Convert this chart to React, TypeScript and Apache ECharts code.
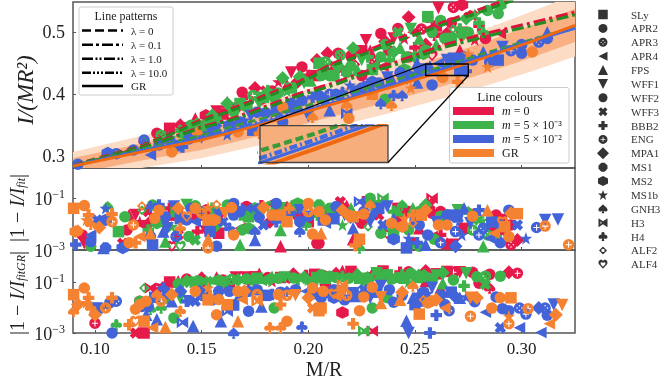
import React, { useEffect, useRef } from "react";
import * as echarts from "echarts";

const eosNames = ["SLy","APR2","APR3","APR4","FPS","WFF1","WFF2","WFF3","BBB2","ENG","MPA1","MS1","MS2","MS1b","GNH3","H3","H4","ALF2","ALF4"];
const xTicks = [0.1,0.15,0.2,0.25,0.3];
const topTicks = [0.3,0.4,0.5];
const logTicks = [0.001,0.1];
const patternNames = ["λ = 0","λ = 0.1","λ = 1.0","λ = 10.0","GR"];

// fit curves
const curveX = [0.0897,0.1225,0.1492,0.1647,0.1787,0.1961,0.2115,0.2256,0.2396,0.2631,0.2818,0.3038,0.325];
const grLine = [0.284,0.3075,0.3255,0.339,0.352,0.369,0.384,0.398,0.412,0.437,0.458,0.484,0.511];
const bandDarkHi = [0.297,0.3215,0.3415,0.356,0.37,0.388,0.404,0.419,0.434,0.461,0.483,0.51,0.538];
const bandDarkLo = [0.271,0.2935,0.3095,0.322,0.334,0.35,0.364,0.377,0.39,0.413,0.433,0.458,0.484];
const bandLightHi = [0.307,0.3335,0.3545,0.37,0.385,0.404,0.421,0.437,0.453,0.481,0.504,0.532,0.561];
const bandLightLo = [0.261,0.2815,0.2965,0.308,0.319,0.334,0.347,0.359,0.371,0.393,0.412,0.436,0.461];
const redA = [0.2855,0.3177,0.358,0.3774,0.3968,0.421,0.45,0.4677,0.487,0.516,0.5387,0.566,0.592];
const greenA = [0.2853,0.3165,0.3555,0.3745,0.3935,0.4175,0.4465,0.464,0.483,0.512,0.534,0.561,0.587];
const redB = [0.2839,0.3145,0.3468,0.3613,0.379,0.4016,0.4177,0.4355,0.45,0.479,0.4968,0.5145,0.5323];
const greenB = [0.2838,0.3135,0.345,0.359,0.376,0.398,0.414,0.432,0.446,0.475,0.492,0.51,0.528];
const greenC = [0.2845,0.3115,0.3325,0.348,0.361,0.379,0.393,0.4075,0.422,0.4445,0.465,0.487,0.508];
const blueA = [0.2845,0.31,0.3295,0.344,0.357,0.374,0.389,0.403,0.417,0.4415,0.462,0.486,0.507];
const blueB = [0.284,0.309,0.3275,0.3415,0.3545,0.3715,0.3865,0.4,0.4145,0.4395,0.46,0.4845,0.506];

// [M/R, I/(MR^2), EOS index]
const topRed = [[0.129,0.337,6],[0.135,0.345,0],[0.14,0.35,10],[0.147,0.361,4],[0.152,0.366,12],[0.157,0.372,5],[0.162,0.387,4],[0.169,0.403,1],[0.175,0.41,10],[0.18,0.405,7],[0.186,0.42,13],[0.192,0.435,5],[0.197,0.444,1],[0.2,0.43,8],[0.204,0.455,10],[0.209,0.466,10],[0.214,0.466,1],[0.218,0.44,4],[0.222,0.448,17],[0.227,0.487,5],[0.231,0.452,2],[0.234,0.498,1],[0.238,0.47,12],[0.242,0.506,6],[0.247,0.524,10],[0.25,0.475,8],[0.256,0.524,1],[0.258,0.462,18],[0.261,0.539,5],[0.263,0.49,5],[0.268,0.54,2],[0.271,0.471,4],[0.272,0.544,12],[0.277,0.527,7],[0.278,0.488,13],[0.29,0.498,3],[0.26,0.51,0],[0.245,0.49,13],[0.225,0.47,0],[0.207,0.44,6],[0.172,0.39,9],[0.155,0.355,3],[0.123,0.325,14],[0.215,0.438,15],[0.265,0.5,14],
  [0.133,0.33,1],[0.143,0.345,5],[0.15,0.352,7],[0.16,0.368,0],[0.166,0.378,6],[0.178,0.392,12],[0.183,0.405,1],[0.19,0.415,4],[0.195,0.42,10],[0.203,0.43,0],[0.212,0.445,7],[0.22,0.462,6],[0.229,0.47,4],[0.236,0.485,10],[0.24,0.49,5],[0.249,0.5,3],[0.253,0.505,2],[0.259,0.495,16],[0.267,0.515,1],[0.272,0.5,0],[0.28,0.51,8],[0.225,0.43,1],[0.235,0.445,3],[0.247,0.46,6],[0.255,0.48,10],[0.283,0.49,1]];
const topGreen = [[0.123,0.325,17],[0.131,0.334,2],[0.14,0.342,16],[0.145,0.35,6],[0.155,0.366,10],[0.162,0.385,10],[0.168,0.385,0],[0.174,0.398,9],[0.181,0.406,16],[0.184,0.395,6],[0.188,0.426,10],[0.192,0.41,0],[0.198,0.418,5],[0.205,0.45,0],[0.208,0.452,2],[0.21,0.43,1],[0.215,0.463,2],[0.218,0.435,6],[0.221,0.474,10],[0.223,0.439,4],[0.228,0.46,8],[0.232,0.445,14],[0.236,0.48,6],[0.24,0.468,10],[0.242,0.5,7],[0.245,0.44,12],[0.248,0.505,5],[0.252,0.49,4],[0.255,0.471,6],[0.256,0.525,0],[0.258,0.5,1],[0.262,0.519,6],[0.268,0.505,17],[0.271,0.505,8],[0.274,0.522,10],[0.278,0.528,13],[0.282,0.5,16],[0.284,0.535,1],[0.289,0.53,6],[0.29,0.544,12],[0.236,0.392,1],[0.15,0.345,1],[0.135,0.33,8],
  [0.142,0.338,0],[0.148,0.352,10],[0.153,0.356,8],[0.158,0.362,4],[0.165,0.372,6],[0.171,0.38,12],[0.177,0.385,5],[0.179,0.395,0],[0.186,0.402,1],[0.19,0.405,13],[0.196,0.428,10],[0.201,0.422,4],[0.206,0.43,6],[0.212,0.43,0],[0.214,0.445,10],[0.22,0.445,1],[0.225,0.455,5],[0.23,0.44,0],[0.234,0.46,6],[0.238,0.455,8],[0.243,0.475,4],[0.246,0.46,1],[0.25,0.46,10],[0.254,0.465,12],[0.26,0.48,4],[0.264,0.49,6],[0.267,0.49,0],[0.272,0.495,10],[0.275,0.5,1],[0.28,0.515,8]];
const topBlue = [[0.092,0.287,1],[0.106,0.305,12],[0.11,0.304,2],[0.123,0.326,2],[0.126,0.302,3],[0.13,0.318,6],[0.138,0.317,0],[0.141,0.315,8],[0.146,0.335,1],[0.15,0.33,5],[0.157,0.345,7],[0.163,0.35,12],[0.17,0.358,13],[0.176,0.371,6],[0.174,0.342,0],[0.18,0.37,1],[0.188,0.355,6],[0.192,0.385,12],[0.197,0.39,6],[0.205,0.398,1],[0.21,0.374,4],[0.21,0.4,9],[0.216,0.403,16],[0.218,0.369,15],[0.2195,0.4145,13],[0.225,0.41,6],[0.23,0.42,12],[0.234,0.385,14],[0.237,0.427,5],[0.24,0.398,16],[0.244,0.398,14],[0.244,0.425,3],[0.251,0.419,4],[0.251,0.45,4],[0.255,0.44,5],[0.258,0.415,1],[0.262,0.435,7],[0.268,0.458,0],[0.271,0.439,0],[0.274,0.437,8],[0.282,0.468,4],[0.285,0.452,1],[0.289,0.455,0],[0.291,0.476,5],[0.295,0.47,9],[0.3,0.466,6],[0.3,0.48,1],[0.308,0.484,2],[0.312,0.49,6],[0.312,0.5,4],[0.2,0.365,5],[0.162,0.335,13],
  [0.118,0.31,6],[0.135,0.325,1],[0.144,0.328,6],[0.155,0.34,0],[0.168,0.355,1],[0.173,0.365,5],[0.185,0.375,0],[0.19,0.378,6],[0.195,0.382,4],[0.202,0.395,8],[0.207,0.392,12],[0.213,0.4,6],[0.222,0.405,1],[0.228,0.412,0],[0.233,0.418,6],[0.239,0.425,4],[0.243,0.435,1],[0.247,0.43,12],[0.252,0.438,6],[0.257,0.445,4],[0.261,0.45,3],[0.265,0.455,5],[0.273,0.46,1],[0.277,0.455,6]];
const topOrange = [[0.136,0.307,1],[0.148,0.339,14],[0.167,0.339,1],[0.177,0.337,16],[0.188,0.379,1],[0.202,0.363,14],[0.218,0.382,14],[0.219,0.361,6],[0.239,0.382,14],[0.23,0.4,0],[0.248,0.41,13],[0.263,0.427,1],[0.27,0.42,8],[0.284,0.444,13],[0.275,0.465,13],[0.305,0.468,1]];

// [M/R, |1-I/I_fit|, EOS index]
const midRed = [[0.116,0.022,4],[0.119,0.022,5],[0.126,0.0123,10],[0.115,0.0059,1],[0.137,0.022,0],[0.122,0.0092,3],[0.135,0.04,8],[0.136,0.0014,18],[0.139,0.0038,7],[0.158,0.0044,0],[0.152,0.0051,5],[0.171,0.047,6],[0.175,0.026,4],[0.182,0.062,3],[0.182,0.0123,10],[0.187,0.0014,4],[0.204,0.0018,1],[0.2,0.0123,0],[0.095,0.0018,5],[0.113,0.0018,7],[0.152,0.034,12],[0.168,0.0068,3],[0.19,0.047,14],[0.158,0.0143,5],[0.132,0.0123,6],[0.148,0.0051,8],[0.193,0.04,11],[0.094,0.0038,1],[0.121,0.0123,13],[0.185,0.034,10],[0.215,0.072,7],[0.225,0.0107,6],[0.221,0.0026,4],[0.205,0.0018,1],[0.226,0.072,8],[0.237,0.0041,18],[0.242,0.04,0],[0.258,0.097,15],[0.257,0.054,7],[0.258,0.026,6],[0.258,0.0033,3],[0.265,0.0018,4],[0.268,0.0016,5],[0.286,0.0068,10],[0.291,0.0143,5],[0.295,0.0092,1],[0.298,0.0024,10],[0.295,0.0016,2],[0.243,0.0165,12],[0.249,0.0019,1],[0.252,0.0068,4],[0.273,0.0068,0],[0.262,0.0038,8],[0.291,0.0051,13],
  [0.125,0.03,7],[0.14,0.03,4],[0.148,0.022,0],[0.163,0.034,5],[0.178,0.05,8],[0.195,0.022,6],[0.21,0.03,1],[0.218,0.05,4],[0.233,0.022,7],[0.246,0.03,0],[0.262,0.03,6],[0.277,0.022,5],[0.288,0.022,1]];
const midGreen = [[0.114,0.019,1],[0.106,0.047,14],[0.127,0.054,6],[0.122,0.034,17],[0.133,0.0021,4],[0.144,0.0033,1],[0.147,0.0024,7],[0.111,0.0051,0],[0.125,0.0059,8],[0.129,0.0107,12],[0.14,0.0014,18],[0.169,0.0059,1],[0.168,0.0016,4],[0.172,0.0068,12],[0.162,0.054,6],[0.157,0.03,7],[0.157,0.0092,10],[0.17,0.022,6],[0.172,0.019,0],[0.195,0.062,12],[0.187,0.0059,4],[0.187,0.04,5],[0.204,0.022,14],[0.098,0.0014,6],[0.136,0.0079,13],[0.143,0.054,5],[0.168,0.022,16],[0.182,0.047,9],[0.177,0.03,8],[0.199,0.0092,16],[0.21,0.04,6],[0.216,0.0092,13],[0.229,0.097,1],[0.235,0.097,15],[0.234,0.0044,1],[0.24,0.0051,0],[0.247,0.0059,6],[0.242,0.034,4],[0.244,0.054,14],[0.249,0.04,4],[0.259,0.0026,6],[0.252,0.0014,1],[0.247,0.0014,16],[0.27,0.034,5],[0.265,0.022,12],[0.277,0.0059,9],[0.283,0.0098,9],[0.284,0.0038,2],[0.288,0.0033,8],[0.228,0.0079,17],[0.205,0.054,11],[0.224,0.0012,14],[0.255,0.054,10],[0.28,0.0143,7],[0.282,0.0014,4],
  [0.13,0.04,10],[0.138,0.03,0],[0.147,0.05,6],[0.155,0.04,8],[0.175,0.04,12],[0.192,0.05,4],[0.206,0.03,7],[0.213,0.03,6],[0.22,0.04,4],[0.232,0.05,0],[0.24,0.03,8],[0.252,0.03,6],[0.262,0.02,1],[0.275,0.03,14]];
const midBlue = [[0.098,0.0038,3],[0.098,0.0021,6],[0.091,0.0016,8],[0.101,0.0143,7],[0.105,0.0143,12],[0.105,0.04,13],[0.104,0.0012,4],[0.113,0.0012,12],[0.127,0.0016,0],[0.126,0.0033,6],[0.132,0.0051,4],[0.134,0.0068,5],[0.133,0.019,1],[0.13,0.054,8],[0.126,0.047,16],[0.137,0.047,5],[0.138,0.0033,9],[0.143,0.0143,1],[0.145,0.04,6],[0.147,0.0123,3],[0.155,0.0143,2],[0.154,0.0051,0],[0.16,0.0123,7],[0.163,0.0068,16],[0.165,0.022,1],[0.165,0.062,6],[0.175,0.0051,14],[0.175,0.0024,4],[0.171,0.04,15],[0.174,0.04,3],[0.185,0.062,6],[0.179,0.0092,7],[0.185,0.0123,8],[0.196,0.034,5],[0.196,0.0123,1],[0.196,0.0051,14],[0.207,0.0143,0],[0.193,0.026,13],[0.157,0.0014,6],[0.105,0.0012,11],[0.208,0.0107,3],[0.213,0.047,1],[0.221,0.0068,4],[0.224,0.072,15],[0.221,0.0165,7],[0.229,0.0123,5],[0.23,0.022,8],[0.233,0.04,0],[0.237,0.047,5],[0.235,0.0092,7],[0.24,0.0026,12],[0.247,0.0028,13],[0.251,0.0019,8],[0.252,0.0092,1],[0.255,0.0016,4],[0.256,0.0038,6],[0.262,0.0019,9],[0.268,0.022,0],[0.265,0.022,6],[0.273,0.04,4],[0.269,0.0051,9],[0.272,0.0038,13],[0.269,0.0014,10],[0.276,0.0107,5],[0.28,0.034,8],[0.282,0.0068,2],[0.28,0.0038,9],[0.285,0.0028,3],[0.29,0.0019,6],[0.298,0.0092,7],[0.294,0.034,1],[0.302,0.0028,13],[0.307,0.0073,9],[0.311,0.0143,5],[0.317,0.0148,5],[0.246,0.0012,0],[0.27,0.0143,16],[0.215,0.034,16],
  [0.14,0.016,0],[0.15,0.03,6],[0.158,0.022,5],[0.168,0.03,6],[0.177,0.018,1],[0.189,0.022,12],[0.2,0.02,6],[0.212,0.016,0],[0.217,0.022,5],[0.226,0.03,6],[0.24,0.016,4],[0.25,0.014,1],[0.26,0.012,5],[0.27,0.022,1],[0.286,0.012,0],[0.29,0.009,6]];
const midOrange = [[0.09,0.04,0],[0.095,0.051,1],[0.097,0.022,8],[0.096,0.0143,13],[0.098,0.0098,16],[0.092,0.0059,14],[0.102,0.0073,10],[0.108,0.024,8],[0.108,0.0123,9],[0.118,0.0092,9],[0.121,0.0033,3],[0.116,0.0019,6],[0.119,0.0019,8],[0.126,0.0044,4],[0.13,0.034,6],[0.128,0.0165,1],[0.139,0.04,10],[0.143,0.019,18],[0.147,0.04,1],[0.15,0.026,9],[0.153,0.043,13],[0.157,0.056,17],[0.122,0.049,17],[0.153,0.0143,0],[0.156,0.0143,12],[0.161,0.026,5],[0.164,0.043,6],[0.153,0.0026,4],[0.165,0.0038,1],[0.14,0.0068,16],[0.179,0.043,10],[0.183,0.022,6],[0.187,0.022,0],[0.19,0.0123,0],[0.191,0.04,16],[0.2,0.062,6],[0.2,0.03,9],[0.202,0.0041,1],[0.204,0.03,3],[0.091,0.0051,12],[0.153,0.0012,9],[0.205,0.03,6],[0.208,0.0143,1],[0.216,0.034,10],[0.219,0.022,6],[0.221,0.019,0],[0.226,0.024,6],[0.229,0.054,14],[0.239,0.0107,1],[0.244,0.0079,12],[0.245,0.0165,13],[0.249,0.022,8],[0.253,0.022,0],[0.255,0.034,10],[0.261,0.0092,6],[0.265,0.0092,1],[0.277,0.02,1],[0.284,0.034,4],[0.287,0.0044,3],[0.292,0.0079,0],[0.294,0.0033,6],[0.295,0.026,10],[0.298,0.025,0],[0.311,0.0083,9],[0.322,0.0016,9],[0.224,0.0026,0],[0.222,0.0015,8],[0.206,0.0044,4],[0.249,0.0107,17],[0.291,0.0123,18]];

// [M/R, |1-I/I_fitGR|, EOS index]
const botRed = [[0.1,0.0024,9],[0.126,0.058,15],[0.129,0.054,2],[0.139,0.106,4],[0.166,0.15,5],[0.171,0.15,5],[0.177,0.21,4],[0.181,0.15,6],[0.187,0.15,0],[0.199,0.18,8],[0.207,0.18,1],[0.16,0.12,6],[0.172,0.12,10],[0.183,0.106,13],[0.149,0.079,14],[0.121,0.0175,6],[0.123,0.001,0],[0.163,0.079,0],[0.133,0.065,7],[0.191,0.15,12],[0.119,0.001,7],[0.208,0.082,1],[0.213,0.21,10],[0.216,0.27,4],[0.221,0.21,7],[0.228,0.15,6],[0.235,0.27,0],[0.243,0.24,8],[0.255,0.27,10],[0.26,0.21,0],[0.268,0.24,9],[0.271,0.24,5],[0.277,0.24,1],[0.28,0.09,1],[0.294,0.24,10],[0.298,0.22,9],[0.216,0.0063,12],[0.23,0.0012,15],[0.285,0.058,14],[0.255,0.11,4],[0.262,0.058,4],
  [0.135,0.1,0],[0.143,0.13,6],[0.15,0.14,10],[0.157,0.15,4],[0.175,0.16,0],[0.193,0.2,10],[0.203,0.2,0],[0.22,0.26,0],[0.23,0.22,4],[0.247,0.25,6],[0.265,0.26,0],[0.285,0.2,6]];
const botGreen = [[0.123,0.058,17],[0.121,0.0175,1],[0.143,0.106,10],[0.147,0.099,0],[0.151,0.106,7],[0.158,0.115,12],[0.164,0.125,2],[0.154,0.106,14],[0.174,0.12,6],[0.178,0.115,3],[0.183,0.16,4],[0.182,0.125,10],[0.189,0.15,5],[0.193,0.145,1],[0.195,0.125,8],[0.2,0.12,13],[0.204,0.15,0],[0.11,0.0021,16],[0.131,0.0096,16],[0.137,0.0039,1],[0.184,0.0096,1],[0.126,0.0085,14],[0.134,0.023,6],[0.157,0.023,6],[0.14,0.023,5],[0.206,0.19,11],[0.21,0.17,6],[0.216,0.17,16],[0.223,0.19,10],[0.227,0.11,12],[0.232,0.22,5],[0.237,0.19,0],[0.242,0.15,1],[0.248,0.22,6],[0.251,0.15,0],[0.247,0.1,13],[0.253,0.2,7],[0.258,0.125,10],[0.263,0.23,10],[0.268,0.12,1],[0.263,0.09,4],[0.273,0.07,8],[0.274,0.22,5],[0.279,0.16,1],[0.283,0.17,2],[0.283,0.08,7],[0.29,0.17,6],[0.23,0.0096,1],[0.237,0.024,1],[0.226,0.0012,15],[0.244,0.19,8],
  [0.139,0.085,6],[0.148,0.11,8],[0.16,0.1,0],[0.167,0.12,10],[0.171,0.13,1],[0.176,0.14,0],[0.186,0.14,6],[0.198,0.15,10],[0.202,0.13,4],[0.208,0.14,0],[0.213,0.15,1],[0.219,0.14,6],[0.224,0.14,0],[0.229,0.16,7],[0.234,0.15,10],[0.239,0.13,6],[0.245,0.14,0],[0.25,0.17,1],[0.255,0.16,6],[0.26,0.18,5]];
const botBlue = [[0.11,0.0175,2],[0.107,0.0155,1],[0.101,0.0096,0],[0.105,0.012,13],[0.14,0.043,10],[0.143,0.0175,8],[0.136,0.0175,4],[0.147,0.0175,7],[0.144,0.0175,5],[0.125,0.011,1],[0.122,0.011,6],[0.124,0.0052,4],[0.129,0.0035,4],[0.132,0.058,16],[0.158,0.043,6],[0.163,0.043,1],[0.165,0.0125,0],[0.159,0.0029,4],[0.172,0.0071,1],[0.178,0.011,4],[0.172,0.043,6],[0.162,0.0071,15],[0.141,0.0026,15],[0.146,0.0019,4],[0.197,0.0017,16],[0.183,0.032,8],[0.19,0.043,14],[0.199,0.043,3],[0.206,0.024,6],[0.108,0.001,6],[0.165,0.001,14],[0.149,0.043,12],[0.208,0.032,3],[0.212,0.05,1],[0.221,0.038,0],[0.226,0.05,7],[0.229,0.024,5],[0.234,0.07,5],[0.24,0.016,6],[0.246,0.003,4],[0.25,0.013,0],[0.249,0.024,4],[0.256,0.036,13],[0.252,0.032,8],[0.258,0.06,5],[0.26,0.005,8],[0.264,0.013,6],[0.266,0.0075,2],[0.269,0.026,10],[0.271,0.024,4],[0.274,0.026,13],[0.283,0.0065,3],[0.278,0.017,1],[0.288,0.026,6],[0.291,0.009,1],[0.294,0.0075,6],[0.299,0.0095,2],[0.302,0.0055,9],[0.308,0.0095,10],[0.311,0.0095,2],[0.315,0.013,5],[0.312,0.005,1],[0.29,0.0016,7],[0.299,0.0016,3],[0.309,0.00105,3],[0.257,0.001,8],[0.247,0.001,5],[0.212,0.024,12],[0.217,0.02,6],
  [0.128,0.025,0],[0.134,0.035,6],[0.152,0.03,0],[0.155,0.02,6],[0.168,0.035,4],[0.176,0.05,6],[0.18,0.03,0],[0.187,0.04,1],[0.194,0.05,6],[0.203,0.035,0],[0.215,0.045,6],[0.222,0.028,4],[0.232,0.04,0],[0.238,0.05,6],[0.244,0.03,1],[0.253,0.018,0],[0.254,0.04,6],[0.262,0.03,1],[0.267,0.04,0]];
const botOrange = [[0.095,0.058,1],[0.09,0.032,0],[0.097,0.024,8],[0.096,0.0155,13],[0.098,0.0096,16],[0.092,0.013,10],[0.108,0.024,8],[0.105,0.0096,9],[0.1,0.0052,10],[0.09,0.0071,14],[0.121,0.013,6],[0.119,0.0085,1],[0.124,0.0175,6],[0.129,0.032,14],[0.131,0.0175,9],[0.136,0.032,10],[0.127,0.0016,3],[0.133,0.0017,4],[0.123,0.0029,0],[0.116,0.0021,8],[0.119,0.0029,18],[0.14,0.0071,16],[0.147,0.043,1],[0.153,0.058,13],[0.154,0.024,8],[0.158,0.0205,6],[0.153,0.02,0],[0.162,0.0129,0],[0.167,0.043,6],[0.17,0.043,10],[0.169,0.0205,3],[0.176,0.032,9],[0.176,0.0175,15],[0.157,0.0052,1],[0.167,0.0029,4],[0.186,0.032,6],[0.19,0.03,9],[0.194,0.03,5],[0.19,0.0029,1],[0.187,0.0129,8],[0.202,0.058,6],[0.2,0.024,10],[0.202,0.0096,7],[0.206,0.0096,0],[0.182,0.0016,16],[0.187,0.0016,16],[0.147,0.00095,15],[0.207,0.043,1],[0.205,0.0075,0],[0.216,0.038,5],[0.213,0.028,3],[0.212,0.034,18],[0.218,0.03,9],[0.226,0.026,1],[0.23,0.062,6],[0.224,0.0075,1],[0.221,0.0023,8],[0.234,0.015,4],[0.234,0.025,5],[0.244,0.04,10],[0.243,0.02,4],[0.249,0.07,14],[0.252,0.0055,0],[0.254,0.02,17],[0.256,0.015,6],[0.258,0.018,12],[0.26,0.02,10],[0.264,0.0095,3],[0.276,0.0045,9],[0.279,0.024,10],[0.276,0.024,5],[0.286,0.0095,1],[0.29,0.024,1],[0.295,0.024,0],[0.294,0.0045,13],[0.294,0.0023,9],[0.303,0.009,9],[0.316,0.0052,10],[0.319,0.0125,5],[0.313,0.0023,3],[0.216,0.078,15]];

const paths = [
  "M2 2H22V22H2Z",
  "M12 1A11 11 0 1 1 12 23A11 11 0 1 1 12 1Z",
  "M12 1A11 11 0 1 1 12 23A11 11 0 1 1 12 1ZM12 6A1.5 1.5 0 1 0 12 9A1.5 1.5 0 1 0 12 6ZM12 15A1.5 1.5 0 1 0 12 18A1.5 1.5 0 1 0 12 15ZM7.5 10.5A1.5 1.5 0 1 0 7.5 13.5A1.5 1.5 0 1 0 7.5 10.5ZM16.500 10.5A1.5 1.5 0 1 0 16.5 13.5A1.5 1.5 0 1 0 16.5 10.5Z",
  "M2 12L22 1V23Z",
  "M12 2L23 22H1Z",
  "M1 2H23L12 22Z",
  "M12 1A11 11 0 1 1 12 23A11 11 0 1 1 12 1Z",
  "M7 1L12 6L17 1L23 7L18 12L23 17L17 23L12 18L7 23L1 17L6 12L1 7Z",
  "M8 1H16V8H23V16H16V23H8V16H1V8H8Z",
  "M12 1A11 11 0 1 1 12 23A11 11 0 1 1 12 1ZM11 6V11H6V13H11V18H13V13H18V11H13V6Z",
  "M12 0L24 12L12 24L0 12Z",
  "M8 1H16L23 8V16L16 23H8L1 16V8Z",
  "M12 0L22.500 6V18L12 24L1.500 18V6Z",
  "M12 0L15 8.500H24L16.800 14L19.400 23L12 17.600L4.600 23L7.200 14L0 8.500H9Z",
  "M12 0C15 5 22 9 22 15C22 19 17 20 13.500 18L15 24H9L10.500 18C7 20 2 19 2 15C2 9 9 5 12 0Z",
  "M1 3L12 9L23 3V21L12 15L1 21ZM6 9V15L9 12Z",
  "M12 1C16 1 17.500 5 15.500 8.500C20 7 23.500 10 23.500 14C23.500 18 18 20 14 17L15.500 24H8.500L10 17C6 20 0.500 18 0.500 14C0.500 10 4 7 8.500 8.500C6.500 5 8 1 12 1Z",
  "M12 0L24 12L12 24L0 12ZM12 7A5 5 0 1 0 12 17A5 5 0 1 0 12 7Z",
  "M12 23L2 12C-1 7 2 1 7 1C9 1 11 2 12 4C13 2 15 1 17 1C22 1 25 7 22 12ZM12 9C10 6 6 6 6 10C6 12 9 15 12 18C15 15 18 12 18 10C18 6 14 6 12 9Z",
].map((d) => "path://" + d);
const sizes = [11.5,11.5,11.5,11.5,12.5,12.5,11.5,11.5,11.5,11.5,14,11.5,12.5,12.5,11.5,11.5,11.5,10,11];
const legendSizes = [9.5,9,9,9,10,10,9,9,9,9,12,9,10,10,9,9,9,8,9];

const RED = "#e6194b", GREEN = "#3cb44b", BLUE = "#4363d8", ORANGE = "#f58231";
const FONT = "Liberation Serif";
const AXIS = "#555";

const scatter = (data: number[][], color: string, xi: number, yi: number, z: number) => ({
  type: "scatter", data, xAxisIndex: xi, yAxisIndex: yi, z, clip: true,
  symbol: (v: number[]) => paths[v[2]],
  symbolSize: (v: number[]) => sizes[v[2]],
  encode: { x: 0, y: 1 },
  itemStyle: { color, opacity: 1 },
  silent: true,
});
const band = (hi: number[], lo: number[], fill: string, xi: number, yi: number, z: number) => ({
  type: "custom", xAxisIndex: xi, yAxisIndex: yi, z, clip: true, silent: true,
  data: curveX.map((x, i) => [x, hi[i], lo[i]]),
  encode: { x: 0, y: [1, 2] },
  renderItem: (p: any, api: any) => {
    if (p.dataIndex !== 0) return null;
    const up = curveX.map((x, i) => api.coord([x, hi[i]]));
    const dn = curveX.map((x, i) => api.coord([x, lo[i]])).reverse();
    return { type: "polygon", shape: { points: [...up, ...dn] }, style: { fill } };
  },
});
const line = (vals: number[], color: string, dash: any, w: number, xi: number, yi: number, z: number) => ({
  type: "line", data: curveX.map((x, i) => [x, vals[i]]), xAxisIndex: xi, yAxisIndex: yi, z,
  showSymbol: false, symbol: "none", silent: true, clip: true,
  lineStyle: { color, width: w, type: dash, cap: "butt" },
});

const xAxisBase = (gridIndex: number, labels: boolean) => ({
  type: "value", gridIndex, min: 0.0897, max: 0.325,
  axisLine: { show: false },
  splitLine: { show: false },
  axisTick: { show: true, inside: true, length: 3, lineStyle: { color: AXIS, width: 1 }, customValues: xTicks },
  axisLabel: { show: labels, customValues: xTicks, margin: 7, fontFamily: FONT, fontSize: 17, color: "#222", formatter: (v: number) => v.toFixed(2) },
});
const logAxis = (gridIndex: number, max: number) => ({
  type: "log", logBase: 10, gridIndex, min: 0.001, max,
  axisLine: { show: false },
  splitLine: { show: false },
  axisTick: { show: true, inside: true, length: 3, lineStyle: { color: AXIS, width: 1 }, customValues: logTicks },
  axisLabel: {
    customValues: logTicks, margin: 8, fontFamily: FONT, fontSize: 18, color: "#222",
    formatter: (v: number) => (v < 0.01 ? "{a|10}{b|−3}" : "{a|10}{b|−1}"),
    rich: {
      a: { fontFamily: FONT, fontSize: 18, color: "#222", verticalAlign: "bottom", lineHeight: 20 },
      b: { fontFamily: FONT, fontSize: 12, color: "#222", verticalAlign: "top", lineHeight: 20 },
    },
  },
});
const hidden = (gridIndex: number, min: number, max: number) => ({ type: "value", gridIndex, min, max, show: false });

const txt = (x: number, y: number, text: string, fontSize: number, extra: any = {}) => ({
  type: "text", x, y, z: 60, silent: true,
  style: { text, fontFamily: FONT, fontSize, fill: "#222", align: "left", verticalAlign: "middle", ...extra },
});
const lineG = (x1: number, y1: number, x2: number, y2: number, stroke: string, lineWidth: number, lineDash?: number[]) => ({
  type: "line", z: 60, silent: true, shape: { x1, y1, x2, y2 }, style: { stroke, lineWidth, lineDash },
});
const richI = {
  i: { fontStyle: "italic", fontFamily: FONT, fontSize: 20, fill: "#222" },
  n: { fontFamily: FONT, fontSize: 20, fill: "#222" },
  s: { fontStyle: "italic", fontFamily: FONT, fontSize: 12, fill: "#222", verticalAlign: "bottom" },
};

const patternDash: any[] = [[9,4],[11,3,3,3],[11,2.5,2,2,2,2.5],[9,2,2,2,2,2,2,2],undefined];
const swatches = [[RED,"{i|m} = 0"],[GREEN,"{i|m} = 5 × 10⁻³"],[BLUE,"{i|m} = 5 × 10⁻²"],[ORANGE,"GR"]];
const swatchRich = { i: { fontStyle: "italic", fontFamily: FONT, fontSize: 12, fill: "#222" } };

export default function App() {
  const ref = useRef<HTMLDivElement>(null);
  useEffect(() => {
    document.body.style.margin = "0";
    const chart = echarts.init(ref.current!, undefined, { renderer: "svg" });
    const frame = { show: true, borderColor: AXIS, borderWidth: 1.5, backgroundColor: "transparent" };
    const topLines = (xi: number, yi: number, z: number, w: number) => [
      line(redA, "#dc143c", [9, 5], w, xi, yi, z),
      line(greenA, "#228b22", [9, 5], w, xi, yi, z),
      line(redB, "#dc143c", [12, 4, 3, 4], w, xi, yi, z),
      line(greenB, "#228b22", [12, 4, 3, 4], w, xi, yi, z),
      line(greenC, "#3a9a3a", [8, 4], w, xi, yi, z),
      line(blueA, "#4169e1", [8, 3, 2, 3], w, xi, yi, z),
      line(blueB, "#4169e1", "solid", w * 0.8, xi, yi, z),
      line(grLine, "#f0680f", "solid", w * 0.9, xi, yi, z),
    ];
    chart.setOption({
      animation: false,
      grid: [
        { left: 73, top: 2, width: 502, height: 166, ...frame },
        { left: 73, top: 168, width: 502, height: 82, ...frame },
        { left: 73, top: 250, width: 502, height: 83, ...frame },
        { left: 260, top: 126, width: 128, height: 36.500 },
        { left: 598, top: 14.5, width: 10, height: 249.8 },
      ],
      xAxis: [
        xAxisBase(0, false), xAxisBase(1, false), xAxisBase(2, true),
        hidden(3, 0.2546, 0.2748),
        hidden(4, -1, 1),
      ],
      yAxis: [
        {
          type: "value", gridIndex: 0, min: 0.281, max: 0.5487,
          axisLine: { show: false }, splitLine: { show: false },
          axisTick: { show: true, inside: true, length: 3, lineStyle: { color: AXIS, width: 1 }, customValues: topTicks },
          axisLabel: { customValues: topTicks, margin: 8, fontFamily: FONT, fontSize: 18, color: "#222", formatter: (v: number) => v.toFixed(1) },
        },
        logAxis(1, 1.425), logAxis(2, 1.8),
        hidden(3, 0.4306, 0.4484),
        {
          type: "category", gridIndex: 4, data: eosNames, inverse: true, boundaryGap: false, position: "right",
          axisLine: { show: false }, axisTick: { show: false }, splitLine: { show: false },
          axisLabel: { margin: 23, fontFamily: FONT, fontSize: 11, color: "#333", interval: 0 },
        },
      ],
      series: [
        band(bandLightHi, bandLightLo, "#fddcc6", 0, 0, 1),
        band(bandDarkHi, bandDarkLo, "#f9b184", 0, 0, 1),
        scatter(topRed, RED, 0, 0, 2),
        scatter(topGreen, GREEN, 0, 0, 2),
        scatter(topBlue, BLUE, 0, 0, 2),
        scatter(topOrange, ORANGE, 0, 0, 2),
        ...topLines(0, 0, 3, 3),
        scatter(midRed, RED, 1, 1, 2),
        scatter(midGreen, GREEN, 1, 1, 2),
        scatter(midBlue, BLUE, 1, 1, 2),
        scatter(midOrange, ORANGE, 1, 1, 2),
        scatter(botRed, RED, 2, 2, 2),
        scatter(botGreen, GREEN, 2, 2, 2),
        scatter(botBlue, BLUE, 2, 2, 2),
        scatter(botOrange, ORANGE, 2, 2, 2),
        band(bandDarkHi, bandDarkLo, "#f5ae7c", 3, 3, 5),
        ...topLines(3, 3, 6, 4.2),
        {
          type: "scatter", xAxisIndex: 4, yAxisIndex: 4, silent: true,
          data: eosNames.map((n, i) => [0, n, i]),
          symbol: (v: any[]) => paths[v[2]],
          symbolSize: (v: any[]) => legendSizes[v[2]],
          encode: { x: 0, y: 1 },
          itemStyle: { color: "#000" },
        },
      ],
      graphic: [
        { type: "rect", z: 50, silent: true, shape: { x: 260, y: 125.7, width: 128, height: 36.8 }, style: { fill: "none", stroke: "#444", lineWidth: 1.3 } },
        { type: "rect", z: 50, silent: true, shape: { x: 425.7, y: 64, width: 42.6, height: 11.5 }, style: { fill: "none", stroke: "#000", lineWidth: 1.3 } },
        lineG(260, 125.7, 425.7, 64, "#000", 1.2),
        lineG(388, 162.5, 468.3, 75.5, "#000", 1.2),

        { type: "rect", z: 55, silent: true, shape: { x: 79, y: 7, width: 94, height: 88, r: 2 }, style: { fill: "rgba(255,255,255,0.85)", stroke: "#ccc", lineWidth: 1 } },
        txt(126, 16, "Line patterns", 12, { align: "center" }),
        ...patternNames.flatMap((n, i) => {
          const y = [30.5, 44.7, 58.7, 72.7, 86][i];
          return [lineG(82, y, 123, y, "#000", 2.5, patternDash[i]), txt(131, y, n, 11)];
        }),

        { type: "rect", z: 55, silent: true, shape: { x: 449.5, y: 87.5, width: 119.500, height: 75.500, r: 2 }, style: { fill: "rgba(255,255,255,0.9)", stroke: "#ccc", lineWidth: 1 } },
        txt(510, 96, "Line colours", 13, { align: "center" }),
        ...swatches.flatMap(([c, t], i) => {
          const y = [111, 125, 139, 153][i];
          return [
            { type: "rect", z: 58, silent: true, shape: { x: 453, y: y - 4, width: 41, height: 8 }, style: { fill: c } },
            txt(502, y, t, 12, { rich: swatchRich }),
          ];
        }),

        { type: "text", z: 60, silent: true, x: 25, y: 90, rotation: Math.PI / 2,
          style: { text: "I/(MR²)", fontFamily: FONT, fontStyle: "italic", fontSize: 23, fill: "#222", align: "center", verticalAlign: "middle" } },
        { type: "text", z: 60, silent: true, x: 17, y: 208, rotation: Math.PI / 2,
          style: { text: "{n||1 − }{i|I/I}{s|fit}{n||}", rich: richI, align: "center", verticalAlign: "middle" } },
        { type: "text", z: 60, silent: true, x: 17, y: 293, rotation: Math.PI / 2,
          style: { text: "{n||1 − }{i|I/I}{s|fitGR}{n||}", rich: richI, align: "center", verticalAlign: "middle" } },
        txt(324, 369, "M/R", 20, { align: "center" }),
      ],
    });
    return () => chart.dispose();
  }, []);
  return <div ref={ref} style={{ position: "fixed", left: 0, top: 0, width: 665, height: 381 }} />;
}
